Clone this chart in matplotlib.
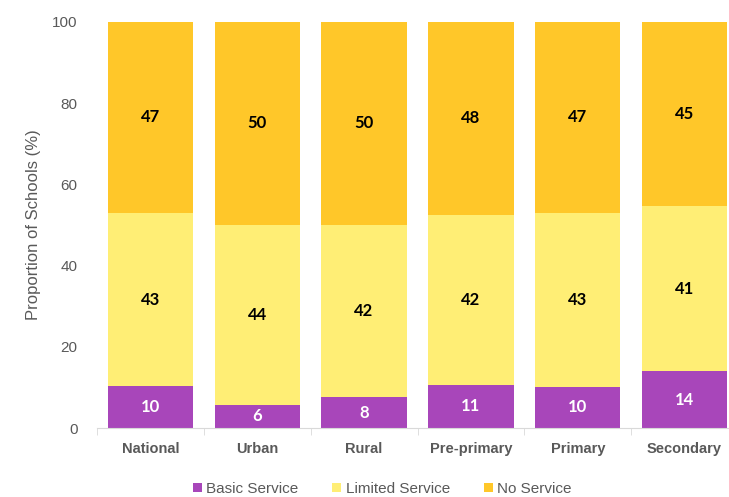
import numpy as np
import matplotlib.pyplot as plt

categories = ['National', 'Urban', 'Rural', 'Pre-primary', 'Primary', 'Secondary']
# bar heights, labels as printed
basic = [10.3, 5.7, 7.6, 10.6, 10.1, 14.0]
limited = [42.7, 44.3, 42.4, 41.9, 42.9, 40.7]
no_service = [47.0, 50.0, 50.0, 47.5, 47.0, 45.3]
basic_lbl = [10, 6, 8, 11, 10, 14]
limited_lbl = [43, 44, 42, 42, 43, 41]
no_lbl = [47, 50, 50, 48, 47, 45]

c_basic = '#A846BA'
c_limited = '#FFEE75'
c_no = '#FFC729'

fig = plt.figure(figsize=(7.29, 4.97), dpi=100)
ax = fig.add_axes([97/729, 69/497, 641/729, 406/497])

x = np.arange(len(categories))
w = 0.8
ax.bar(x, basic, w, color=c_basic, label='Basic Service')
ax.bar(x, limited, w, bottom=basic, color=c_limited, label='Limited Service')
bot = np.array(basic) + np.array(limited)
ax.bar(x, no_service, w, bottom=bot, color=c_no, label='No Service')

lab_font = dict(fontsize=12, fontweight='bold', family='Lato', ha='center', va='center')
for i in range(len(x)):
    ax.text(x[i], basic[i] / 2, str(basic_lbl[i]), color='white', **lab_font)
    ax.text(x[i], basic[i] + limited[i] / 2, str(limited_lbl[i]), color='black', **lab_font)
    ax.text(x[i], bot[i] + no_service[i] / 2, str(no_lbl[i]), color='black', **lab_font)

ax.set_xlim(-0.5, len(x) - 0.5)
ax.set_ylim(0, 100)
ax.set_yticks([0, 20, 40, 60, 80, 100])
ax.tick_params(axis='y', length=0, labelsize=11, labelcolor='#595959', pad=14)
for t in ax.get_yticklabels():
    t.set_family('Liberation Sans')
ax.set_xticks(x)
ax.set_xticklabels(categories, fontsize=10.5, fontweight='bold', color='#595959', family='Liberation Sans')
ax.set_xticks(np.arange(-0.5, len(x)), minor=True)
ax.tick_params(axis='x', which='major', length=0, pad=10)
ax.tick_params(axis='x', which='minor', length=5, color='#D9D9D9', direction='out')
ax.set_ylabel('Proportion of Schools (%)', fontsize=12, color='#595959', family='Liberation Sans', labelpad=8)

for s in ['top', 'right', 'left']:
    ax.spines[s].set_visible(False)
ax.spines['bottom'].set_color('#D9D9D9')

leg = ax.legend(loc='center', bbox_to_anchor=(0.445, -0.15), ncol=3, frameon=False,
                handlelength=0.6, handleheight=0.6, handletextpad=0.3, columnspacing=2.2,
                prop={'family': 'Liberation Sans', 'size': 11})
for t in leg.get_texts():
    t.set_color('#595959')

fig.savefig('out.png', dpi=100)
